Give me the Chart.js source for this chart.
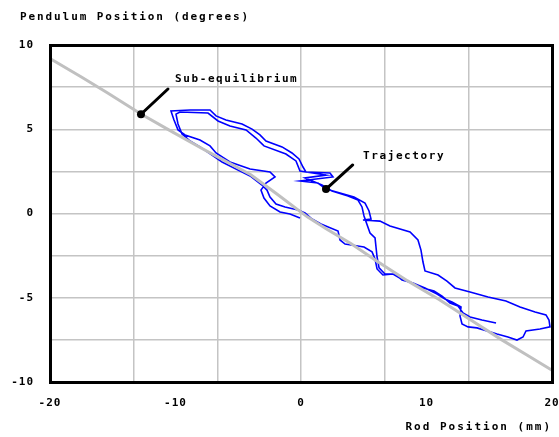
<!DOCTYPE html>
<html>
<head>
<meta charset="utf-8">
<script src="https://cdn.jsdelivr.net/npm/chart.js@4/dist/chart.umd.min.js"></script>
<style>
  html, body { margin: 0; padding: 0; background: #fff; }
  #wrap { width: 559px; height: 437px; position: relative; }
</style>
</head>
<body>
<div id="wrap"><canvas id="pendulum"></canvas></div>
<script>
// measured trajectory: rod position (mm) vs pendulum angle (deg)
const trajX = [
  -0.08, -0.88, -1.67, -2.47, -2.95, -3.19, -2.79, -2.07, -2.47, -4.06, -5.66, -6.77, -7.25, -8.05, -9.24, -9.80, -10.12, -10.36,
  -8.84, -7.25, -6.77, -5.98, -4.70, -3.90, -3.27, -2.79, -1.51, -0.72, -0.16, 0.16, 0.40, 2.31, 2.55, -0.08, 1.35, 1.99, 3.11, 4.22,
  5.10, 5.42, 5.58, 4.94, 6.29, 7.09, 8.69, 9.32, 9.56, 9.72, 9.88, 10.92, 11.63, 12.27, 13.47, 14.90, 16.33, 17.45, 18.65, 19.52, 19.76, 19.84,
  19.04, 17.93, 17.69, 17.21, 16.49, 15.62, 14.02, 13.31, 12.83, 12.67, 12.75, 12.03, 11.47, 10.84, 9.88, 8.92, 8.13, 7.33, 6.53, 6.06,
  5.90, 5.66, 5.02, 3.51, 3.11, 2.95, 1.59, 0.88, 0.32, -0.24, -1.27, -1.99, -2.47, -2.71, -3.11, -4.06, -5.02, -6.29, -7.09, -8.05,
  -8.84, -9.48, -9.80, -9.96, -9.64,
  -7.41, -6.61, -5.66, -4.38, -3.59, -2.95, -1.20, -0.40, -0.08, 1.99, 0.32, 1.67, 2.47, 3.75, 4.54, 4.86, 5.02,
  5.50, 5.90, 6.06, 6.22, 6.69, 7.49, 8.05, 8.92, 9.72, 10.60, 11.24, 11.87, 12.51, 12.91, 13.47, 14.42, 15.54
];
const trajY = [
  -0.27, -0.03, 0.09, 0.45, 0.92, 1.39, 1.81, 2.17, 2.46, 2.64, 3.06, 3.59, 4.01, 4.36, 4.66, 4.96, 5.55, 6.08,
  6.14, 6.14, 5.79, 5.55, 5.31, 5.01, 4.66, 4.30, 3.95, 3.59, 3.24, 2.76, 2.46, 2.40, 2.17, 1.93, 1.81, 1.45, 1.22, 0.98,
  0.62, 0.15, -0.33, -0.39, -0.45, -0.74, -1.10, -1.57, -2.17, -2.88, -3.41, -3.65, -4.01, -4.42, -4.66, -4.96, -5.19, -5.55, -5.85, -6.02, -6.32, -6.73,
  -6.85, -6.97, -7.33, -7.51, -7.33, -7.15, -6.79, -6.73, -6.56, -6.08, -5.55, -5.25, -5.07, -4.78, -4.42, -4.12, -3.95, -3.59, -3.65, -3.29,
  -2.70, -2.28, -1.99, -1.81, -1.57, -1.04, -0.62, -0.33, 0.03, 0.21, 0.39, 0.56, 0.98, 1.39, 1.69, 2.23, 2.58, 3.06, 3.47, 3.95,
  4.30, 4.72, 5.31, 5.90, 6.02,
  5.96, 5.49, 5.19, 4.96, 4.48, 4.01, 3.53, 3.12, 2.52, 2.28, 2.11, 1.69, 1.34, 1.04, 0.80, 0.39, -0.15,
  -1.16, -1.45, -2.58, -3.23, -3.59, -3.59, -3.95, -4.12, -4.42, -4.60, -4.90, -5.31, -5.49, -5.90, -6.14, -6.32, -6.50
];

// sub-equilibrium curve
const eqX = [-20, -17.5, -15.5, -12.75, -10.5, -8, -6.5, -4, -2, 0.5, 2, 4, 6, 8.5, 11, 13.5, 16, 18, 20];
const eqY = [9.2, 8.1, 7.2, 5.9, 4.95, 3.9, 3.3, 2.3, 1.2, -0.2, -0.9, -1.8, -2.8, -4.0, -5.1, -6.3, -7.5, -8.4, -9.3];

// x grid every 40/6 mm, labels only every 10 mm
const xGrid = [-20, -40 / 3, -20 / 3, 0, 20 / 3, 40 / 3, 20];
const xLabels = [-20, -10, 0, 10, 20];
const yLabels = [-10, -5, 0, 5, 10];

const FONT = "'DejaVu Sans Mono', monospace";
const near = (arr, v) => arr.some(a => Math.abs(a - v) < 1e-6);

const notes = [
  { text: 'Sub-equilibrium', at: [-10.04, 7.98], from: [-10.6, 7.39], to: [-12.75, 5.89] },
  { text: 'Trajectory', at: [4.94, 3.43], from: [4.12, 2.88], to: [1.99, 1.45] }
];

const zip = (xs, ys) => xs.map((x, i) => ({ x: x, y: ys[i] }));

const decor = {
  id: 'decor',
  beforeDraw(chart) {
    chart.ctx.letterSpacing = '1px';
  },
  afterDraw(chart) {
    const ctx = chart.ctx;
    const a = chart.chartArea;
    const sx = chart.scales.x, sy = chart.scales.y;
    ctx.save();

    // frame
    ctx.strokeStyle = '#000';
    ctx.lineWidth = 3;
    ctx.strokeRect(a.left + 0.5, a.top + 0.5, a.right - a.left, a.bottom - a.top);

    // pointers
    ctx.fillStyle = '#000';
    ctx.lineWidth = 3;
    ctx.lineCap = 'round';
    ctx.font = 'bold 11px ' + FONT;
    ctx.textBaseline = 'middle';
    ctx.letterSpacing = '1.6px';
    notes.forEach(n => {
      const x0 = sx.getPixelForValue(n.from[0]), y0 = sy.getPixelForValue(n.from[1]);
      const x1 = sx.getPixelForValue(n.to[0]), y1 = sy.getPixelForValue(n.to[1]);
      ctx.beginPath();
      ctx.moveTo(x0, y0);
      ctx.lineTo(x1, y1);
      ctx.stroke();
      ctx.beginPath();
      ctx.arc(x1, y1, 4, 0, Math.PI * 2);
      ctx.fill();
      ctx.fillText(n.text, sx.getPixelForValue(n.at[0]), sy.getPixelForValue(n.at[1]));
    });

    // axis titles
    ctx.letterSpacing = '1.9px';
    ctx.textAlign = 'left';
    ctx.fillText('Pendulum Position (degrees)', 20, 17);
    ctx.textAlign = 'right';
    ctx.letterSpacing = '2px';
    ctx.fillText('Rod Position (mm)', 552, 427);
    ctx.restore();
  }
};

new Chart(document.getElementById('pendulum'), {
  type: 'scatter',
  data: {
    datasets: [
      {
        data: zip(eqX, eqY),
        showLine: true,
        borderColor: '#c0c0c0',
        borderWidth: 3,
        pointRadius: 0,
        order: 0
      },
      {
        data: zip(trajX, trajY),
        showLine: true,
        borderColor: '#0000ff',
        borderWidth: 1.6,
        pointRadius: 0,
        order: 1
      }
    ]
  },
  options: {
    responsive: true,
    maintainAspectRatio: false,
    animation: false,
    layout: { padding: { top: 45, right: 7, bottom: 0, left: 0 } },
    plugins: { legend: { display: false }, tooltip: { enabled: false } },
    scales: {
      x: {
        type: 'linear',
        min: -20,
        max: 20,
        afterBuildTicks: s => {
          const vals = xGrid.concat(xLabels.filter(v => !near(xGrid, v))).sort((p, q) => p - q);
          s.ticks = vals.map(v => ({ value: v }));
        },
        afterFit: s => { s.height = 55; s.paddingLeft = 0; s.paddingRight = 0; },
        border: { display: false },
        grid: {
          color: c => (c.tick && near(xGrid, c.tick.value)) ? '#c4c4c4' : 'rgba(0,0,0,0)',
          lineWidth: 1.5,
          drawTicks: false
        },
        ticks: {
          autoSkip: false,
          maxRotation: 0,
          padding: 15,
          color: '#000',
          font: { family: FONT, size: 11, weight: 'bold' },
          callback: v => near(xLabels, v) ? String(Math.round(v)) : ''
        }
      },
      y: {
        min: -10,
        max: 10,
        afterFit: s => { s.width = 50; s.paddingTop = 0; s.paddingBottom = 0; },
        border: { display: false },
        grid: { color: '#c4c4c4', lineWidth: 1.5, drawTicks: false },
        ticks: {
          stepSize: 2.5,
          padding: 16,
          color: '#000',
          font: { family: FONT, size: 11, weight: 'bold' },
          callback: v => near(yLabels, v) ? String(v) : ''
        }
      }
    }
  },
  plugins: [decor]
});
</script>
</body>
</html>
